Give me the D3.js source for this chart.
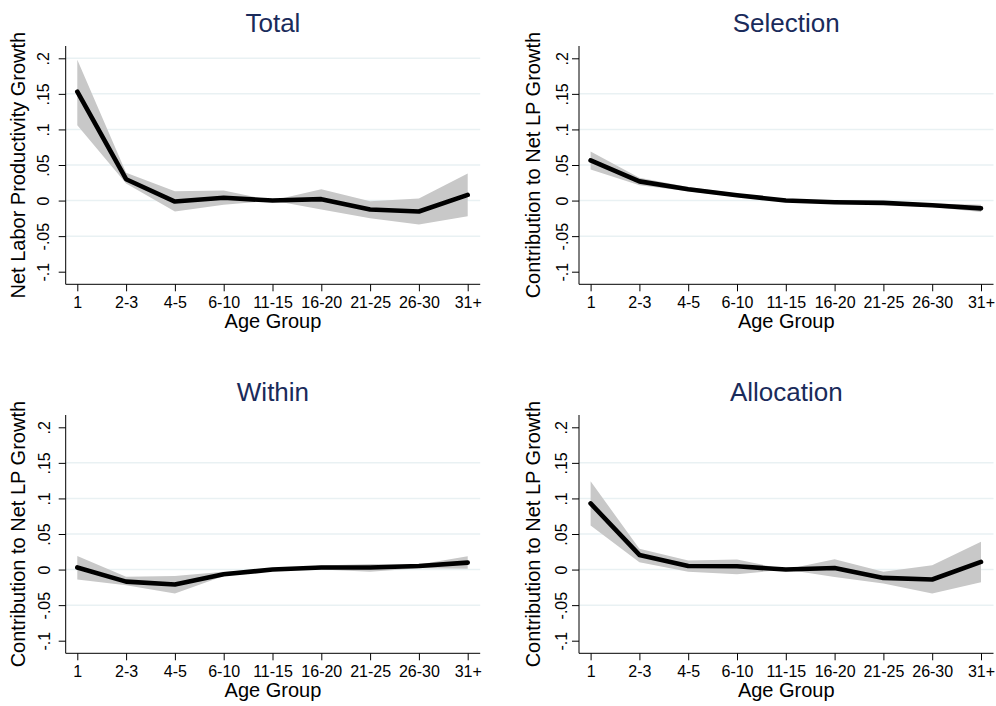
<!DOCTYPE html>
<html>
<head>
<meta charset="utf-8">
<script src="https://cdn.jsdelivr.net/npm/d3@7"></script>
<style>
  body { margin: 0; background: #fff; }
  svg { display: block; font-family: 'Liberation Sans', Arial, sans-serif; }
</style>
</head>
<body>
<svg width="996" height="706"></svg>
<script>
// age groups on the x axis
var ageGroups = ['1', '2-3', '4-5', '6-10', '11-15', '16-20', '21-25', '26-30', '31+']

var yTicks = [-0.1, -0.05, 0, 0.05, 0.1, 0.15, 0.2]
var yTickLabels = ['-.1', '-.05', '0', '.05', '.1', '.15', '.2']

var panelTitles = ['Total', 'Selection', 'Within', 'Allocation']
var yTitles = ['Net Labor Productivity Growth', 'Contribution to Net LP Growth',
  'Contribution to Net LP Growth', 'Contribution to Net LP Growth']

// grid lines drawn by stata (not at the extreme ticks)
var gridTotal = [-0.05, 0, 0.05, 0.1, 0.15, 0.2]
var gridOther = [-0.05, 0, 0.05, 0.1, 0.15]

// point estimates and 95% bands
var totalMean = [0.153, 0.030, -0.0014, 0.004, 0, 0.002, -0.0126, -0.0154, 0.008]
var totalLow  = [0.106, 0.024, -0.0154, -0.006, 0, -0.0126, -0.025, -0.0336, -0.022]
var totalHigh = [0.198, 0.039, 0.013, 0.014, 0, 0.016, -0.001, 0.003, 0.038]

var selMean = [0.0565, 0.027, 0.016, 0.0075, 0, -0.0023, -0.0033, -0.0065, -0.011]
var selLow  = [0.0435, 0.0215, 0.013, 0.005, 0, -0.004, -0.006, -0.009, -0.016]
var selHigh = [0.069, 0.032, 0.019, 0.010, 0, 0, -0.001, -0.004, -0.006]

var withinMean = [0.003, -0.017, -0.021, -0.0065, 0, 0.003, 0.003, 0.005, 0.0098]
var withinLow  = [-0.014, -0.022, -0.0336, -0.009, 0, 0, -0.003, 0.002, 0.001]
var withinHigh = [0.019, -0.010, -0.009, -0.003, 0, 0.0056, 0.008, 0.007, 0.0187]

var allocMean = [0.093, 0.0206, 0.005, 0.0047, 0, 0.0023, -0.0117, -0.014, 0.0107]
var allocLow  = [0.062, 0.0103, -0.003, -0.0065, 0, -0.0103, -0.0196, -0.0336, -0.0178]
var allocHigh = [0.124, 0.0294, 0.0126, 0.014, 0, 0.0145, -0.003, 0.006, 0.039]

var panels = [
  {mean: totalMean, low: totalLow, high: totalHigh, grid: gridTotal, left: 65.7, top: 46, tickOff: -16.5, titleOff: -40.7},
  {mean: selMean, low: selLow, high: selHigh, grid: gridOther, left: 579, top: 46, tickOff: -11.5, titleOff: -39.3},
  {mean: withinMean, low: withinLow, high: withinHigh, grid: gridOther, left: 65.7, top: 415, tickOff: -16, titleOff: -40.7},
  {mean: allocMean, low: allocLow, high: allocHigh, grid: gridOther, left: 579, top: 415, tickOff: -12.5, titleOff: -39.3}
]

var svg = d3.select('svg')
var plotW = 414.5,
  plotH = 238.3

var x = d3.scaleLinear().domain([0, 8]).range([11.6, 402])
var y = d3.scaleLinear().domain([-0.1, 0.2]).range([225.7, 12.3])

var area = d3.area()
    .x(function (d, i) { return x(i) })
    .y0(function (d) { return y(d[0]) })
    .y1(function (d) { return y(d[1]) })

var line = d3.line()
    .x(function (d, i) { return x(i) })
    .y(function (d) { return y(d) })

panels.forEach(function (p, k) {
  var g = svg.append('g')
      .attr('transform', 'translate(' + p.left + ',' + p.top + ')')

  // grid
  g.selectAll('.grid')
      .data(p.grid)
    .enter().append('line')
      .attr('x1', 0)
      .attr('x2', plotW)
      .attr('y1', function (d) { return y(d) })
      .attr('y2', function (d) { return y(d) })
      .attr('stroke', '#e9f1f3')
      .attr('stroke-width', 1.5)

  var band = p.low.map(function (v, i) { return [v, p.high[i]] })

  g.append('path')
      .datum(band)
      .attr('fill', '#c8c8c8')
      .attr('d', area)

  g.append('path')
      .datum(p.mean)
      .attr('fill', 'none')
      .attr('stroke', '#000')
      .attr('stroke-width', 4.6)
      .attr('stroke-linejoin', 'round')
      .attr('stroke-linecap', 'round')
      .attr('d', line)

  // y axis
  var yAxis = d3.axisLeft(y)
      .tickValues(yTicks)
      .tickSize(7)
      .tickFormat(function (d, i) { return yTickLabels[i] })
  var ya = g.append('g').call(yAxis)
  ya.select('.domain').attr('d', 'M0,0V' + plotH).attr('stroke', '#000')
  ya.selectAll('.tick line').attr('stroke', '#000')
  ya.selectAll('.tick text')
      .attr('x', null).attr('dy', null)
      .attr('transform', 'translate(' + p.tickOff + ',0) rotate(-90)')
      .attr('text-anchor', 'middle')
      .attr('font-size', 16)
      .attr('font-family', "'Liberation Sans', Arial, sans-serif")
      .attr('fill', '#000')

  // x axis
  var xAxis = d3.axisBottom(x)
      .tickValues(d3.range(ageGroups.length))
      .tickSize(7)
      .tickFormat(function (d) { return ageGroups[d] })
  var xa = g.append('g')
      .attr('transform', 'translate(0,' + plotH + ')')
      .call(xAxis)
  xa.select('.domain').attr('d', 'M0,0H' + plotW).attr('stroke', '#000')
  xa.selectAll('.tick line').attr('stroke', '#000')
  xa.selectAll('.tick text')
      .attr('y', 24).attr('dy', null)
      .attr('font-size', 16)
      .attr('font-family', "'Liberation Sans', Arial, sans-serif")
      .attr('fill', '#000')

  g.append('text')
      .attr('x', plotW / 2)
      .attr('y', plotH + 43.4)
      .attr('text-anchor', 'middle')
      .attr('font-size', 20)
      .text('Age Group')

  g.append('text')
      .attr('transform', 'translate(' + p.titleOff + ',' + (plotH / 2) + ') rotate(-90)')
      .attr('text-anchor', 'middle')
      .attr('font-size', 20)
      .text(yTitles[k])

  g.append('text')
      .attr('x', plotW / 2)
      .attr('y', -14)
      .attr('text-anchor', 'middle')
      .attr('font-size', 26)
      .attr('fill', '#1a2b5b')
      .text(panelTitles[k])
})
</script>
</body>
</html>
